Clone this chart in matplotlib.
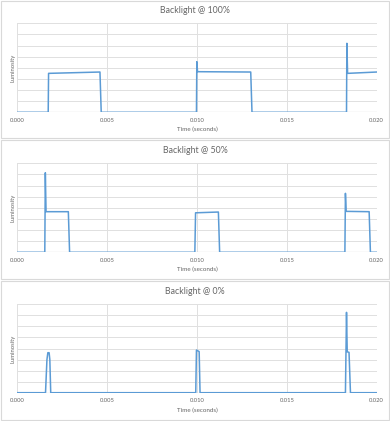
# Три осциллограммы подсветки (100%, 50%, 0%) в стиле диаграмм Excel
import matplotlib.pyplot as plt
from matplotlib.patches import Rectangle

W, H = 390, 421

titles = ["Backlight @ 100%", "Backlight @ 50%", "Backlight @ 0%"]
xticks = [0.000, 0.005, 0.010, 0.015, 0.020]
xtick_labels = ["0.000", "0.005", "0.010", "0.015", "0.020"]

# Backlight @ 100%
t_100 = [0.0, 0.00172, 0.00174, 0.00460, 0.00467, 0.00997, 0.00999, 0.01003,
         0.01299, 0.01306, 0.01832, 0.01834, 0.01838, 0.0200]
y_100 = [0.0, 0.0, 3.50, 3.62, 0.0, 0.0, 4.55, 3.65,
         3.62, 0.0, 0.0, 6.20, 3.50, 3.62]

# Backlight @ 50%
t_50 = [0.0, 0.00153, 0.00156, 0.00160, 0.00284, 0.00291, 0.00988, 0.00992,
        0.01119, 0.01126, 0.01823, 0.01826, 0.01830, 0.01958, 0.01965, 0.0200]
y_50 = [0.0, 0.0, 7.15, 3.65, 3.65, 0.0, 0.0, 3.55,
        3.62, 0.0, 0.0, 5.30, 3.68, 3.65, 0.0, 0.0]

# Backlight @ 0%
t_0 = [0.0, 0.00157, 0.00165, 0.00170, 0.00177, 0.00181, 0.00186,
       0.00993, 0.00997, 0.01012, 0.01017, 0.01826, 0.01832, 0.01836,
       0.01846, 0.01854, 0.0200]
y_0 = [0.0, 0.0, 3.0, 3.62, 3.62, 3.0, 0.0,
       0.0, 3.86, 3.72, 0.0, 0.0, 7.27, 3.70,
       3.65, 0.0, 0.0]

series = [(t_100, y_100), (t_50, y_50), (t_0, y_0)]

# положение панелей в пикселях (сверху вниз)
panels = [
    # рамка (верх, низ), оси (верх, низ)
    ((0.5, 138), (23.3, 112.3)),
    ((140, 279), (163.3, 252.3)),
    ((281, 420), (304.3, 392.7)),
]

line_color = "#5B9BD5"
grid_color = "#E0E0E0"
text_color = "#666666"

plt.rcParams["font.family"] = ["Lato", "DejaVu Sans"]

fig = plt.figure(figsize=(W / 100, H / 100), dpi=100)

for (tt, yy), title, ((b_top, b_bot), (a_top, a_bot)) in zip(series, titles, panels):
    # рамка диаграммы
    fig.patches.append(Rectangle((0.5 / W, 1 - b_bot / H), (W - 1.5) / W,
                                 (b_bot - b_top) / H, transform=fig.transFigure,
                                 fill=False, edgecolor="#D9D9D9", lw=0.8))

    left, right = 17.3, 376.7
    ax = fig.add_axes([left / W, 1 - a_bot / H, (right - left) / W, (a_bot - a_top) / H])
    ax.plot(tt, yy, color=line_color, lw=1.1)
    ax.set_xlim(0, 0.02)
    ax.set_ylim(0, 8)
    ax.set_xticks(xticks)
    ax.set_xticklabels(xtick_labels)
    ax.set_yticks(range(0, 9))
    ax.set_yticklabels([])
    ax.grid(True, color=grid_color, lw=0.7)
    ax.set_axisbelow(True)
    ax.tick_params(length=0, labelsize=4.2, labelcolor=text_color, pad=4)
    for s in ax.spines.values():
        s.set_visible(False)
    ax.axhline(0, color="#D0D0D0", lw=0.9, zorder=1)
    ax.set_xlabel("Time (seconds)", fontsize=4.5, color=text_color, labelpad=3)
    ax.set_ylabel("Luminosity", fontsize=4.2, color=text_color)
    ax.yaxis.set_label_coords(-0.005, 0.5)

    title_y = b_top + (a_top - b_top) * 0.45
    fig.text(0.5, 1 - title_y / H, title, ha="center", va="center",
             fontsize=6.3, color=text_color)

fig.savefig("out.png", dpi=100)
plt.close(fig)
